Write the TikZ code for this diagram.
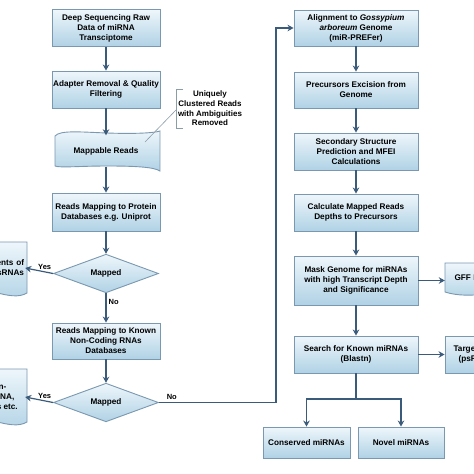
\documentclass[tikz,border=0pt]{standalone}
\usepackage{fontspec}
\setmainfont{Liberation Sans}
\usetikzlibrary{shapes.geometric,arrows.meta}

\definecolor{boxline}{HTML}{7A98B0}
\definecolor{boxtop}{HTML}{EEF6FB}
\definecolor{boxbot}{HTML}{B0D2E5}
\definecolor{flowcol}{HTML}{3B5B7B}
\definecolor{notecol}{HTML}{8C9CA8}

\tikzset{
  boxfill/.style={draw=boxline, line width=0.9pt, top color=boxtop, bottom color=boxbot},
  stage/.style={boxfill, align=center, inner sep=1pt,
    font=\bfseries\fontsize{8.2}{10}\selectfont},
  leftstage/.style={stage, minimum width=108, minimum height=37},
  rightstage/.style={stage, minimum width=124, minimum height=37},
  query/.style={stage, shape=diamond, minimum width=105, minimum height=37, inner sep=0pt},
  textonly/.style={align=center, inner sep=1pt, font=\bfseries\fontsize{8.2}{10}\selectfont},
  flow/.style={draw=flowcol, line width=1.2pt, -{Stealth[length=6pt,width=6.5pt]}},
  flowline/.style={draw=flowcol, line width=1.2pt},
  answer/.style={font=\bfseries\fontsize{7.5}{8}\selectfont, inner sep=2pt}
}

\begin{document}
\begin{tikzpicture}[x=1pt, y=-1pt]
    \useasboundingbox (0,0) rectangle (474,474);
    \clip (0,0) rectangle (474,474);
    \fill[white] (0,0) rectangle (474,474);

    % Left column
    \node[leftstage] (seq) at (106,28)
      {Deep Sequencing Raw\\Data of miRNA\\Transciptome};
    \node[leftstage] (adapt) at (106,89.5)
      {Adapter Removal \& Quality\\Filtering};
    \draw[boxfill]
      (55,136) .. controls (60,130) and (80,132) .. (107,133)
      .. controls (135,134) and (154,133) .. (160,131) -- (160,171)
      .. controls (154,167) and (135,166) .. (107,166)
      .. controls (80,166) and (60,168) .. (55,166) -- cycle;
    \node[textonly, minimum width=105, minimum height=31] (mapp) at (106,151)
      {Mappable Reads};
    \node[leftstage, minimum height=38] (prot) at (106,212)
      {Reads Mapping to Protein\\Databases e.g. Uniprot};
    \node[query] (hit1) at (106,273.5) {Mapped};
    \node[leftstage, minimum height=36] (ncrna) at (106,341)
      {Reads Mapping to Known\\Non-Coding RNAs\\Databases};
    \node[query] (hit2) at (106,402.5) {Mapped};

    % Side documents (cut by the frame)
    \draw[boxfill]
      (-45,242) -- (27,242) -- (27,293)
      .. controls (10,303) and (-15,283) .. (-45,290) -- cycle;
    \node[textonly, align=right, text width=66, minimum height=50] (frag1) at (-9,268)
      {Fragments of\\Other sRNAs};
    \draw[boxfill]
      (-45,369) -- (27,369) -- (27,422)
      .. controls (10,432) and (-15,412) .. (-45,419) -- cycle;
    \node[textonly, minimum width=60, minimum height=54] (frag2) at (-3,397)
      {Non-\\snoRNA,\\tRNAs etc.};

    % Note on the mappable reads
    \node[textonly, font=\bfseries\fontsize{8}{9.6}\selectfont] (note) at (210,108.5)
      {Uniquely\\Clustered Reads\\with Ambiguities\\Removed};
    \draw[notecol, line width=0.6pt]
      (183,89) -- (176,89) -- (176,128) -- (183,128);
    \coordinate (notetip) at (145,142);
    \draw[notecol, line width=0.6pt] (176,110) -- (notetip);

    % Right column
    \node[rightstage, minimum height=36] (align) at (356,28)
      {Alignment to \textit{Gossypium}\\\textit{arboreum} Genome\\(miR-PREFer)};
    \node[rightstage, minimum height=36] (excis) at (356,90)
      {Precursors Excision from\\Genome};
    \node[rightstage] (second) at (356,151.5)
      {Secondary Structure\\Prediction and MFEI\\Calculations};
    \node[rightstage] (depth) at (356,212.5)
      {Calculate Mapped Reads\\Depths to Precursors};
    \node[rightstage, minimum height=49] (mask) at (356,280.5)
      {Mask Genome for miRNAs\\with high Transcript Depth\\and Significance};
    \node[rightstage] (search) at (356,354.5)
      {Search for Known miRNAs\\(Blastn)};
    \node[stage, minimum width=87, minimum height=31] (cons) at (306.5,442.5)
      {Conserved miRNAs};
    \node[stage, minimum width=86, minimum height=31] (novel) at (401,442.5)
      {Novel miRNAs};

    % Outputs on the right (cut by the frame)
    \draw[boxfill]
      (445,263) -- (520,263) -- (520,292)
      .. controls (500,290) and (470,300) .. (445,292) -- cycle;
    \node[textonly, minimum width=52, minimum height=29] (gff) at (471,277.5)
      {GFF File};
    \node[stage, minimum width=84, minimum height=37] (target) at (487,354.5)
      {Target Prediction\\(psRNATarget)};

    % Connectors
    \draw[flow] (seq) -- (adapt);
    \draw[flow] (adapt) -- (mapp);
    \draw[flow] (mapp) -- (prot);
    \draw[flow] (prot) -- (hit1);
    \draw[flow] (hit1) -- node[answer, right, pos=.3] {No} (ncrna);
    \draw[flow] (ncrna) -- (hit2);
    \draw[flow] (hit1.west) -- node[answer, above, pos=.3] {Yes} (frag1.east);
    \draw[flow] (hit2.west) -- node[answer, above, pos=.3] {Yes} (frag2.east -| frag1.east);
    \coordinate (loop) at (276,0);
    \draw[flow] (hit2.east) -- node[answer, above, pos=.11] {No}
      (hit2.east -| loop) |- (align.west);
    \draw[flow] (align) -- (excis);
    \draw[flow] (excis) -- (second);
    \draw[flow] (second) -- (depth);
    \draw[flow] (depth) -- (mask);
    \draw[flow] (mask) -- (search);
    \draw[flow] (mask.east) -- (mask.east -| gff.west);
    \draw[flow] (search) -- (target);
    \coordinate (split) at (356,399);
    \draw[flowline] (search) -- (split);
    \draw[flow] (split) -| (cons);
    \draw[flow] (split) -| (novel);
  \end{tikzpicture}
\end{document}
